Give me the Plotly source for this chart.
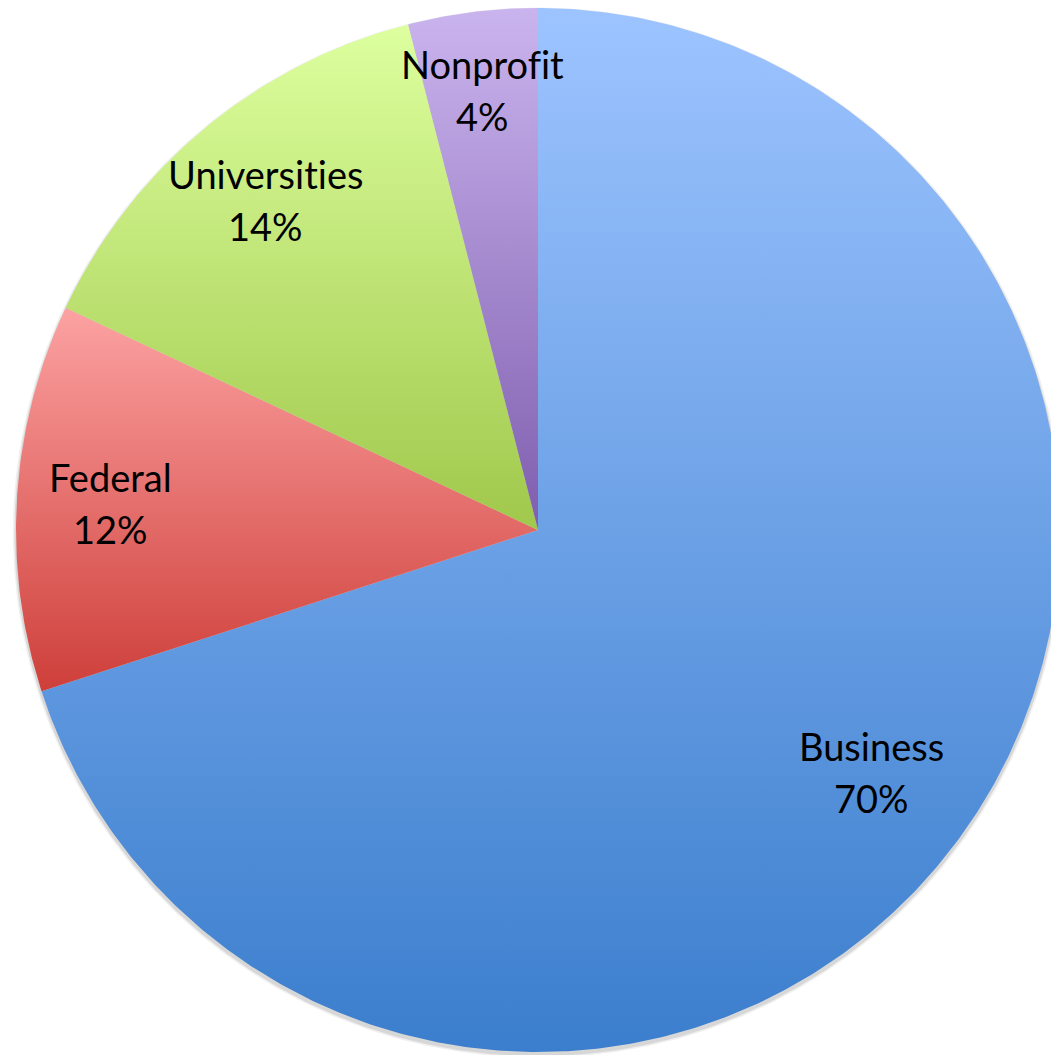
import numpy as np
import plotly.graph_objects as go

# Funding share by sector (percent), clockwise from 12 o'clock
categories = ["Business", "Federal", "Universities", "Nonprofit"]
shares = [70, 12, 14, 4]
pct_labels = ["70%", "12%", "14%", "4%"]

# Vertical gradient per slice: lighter at the top, deeper at the bottom
top_colors = ["#9DC4FF", "#FCA2A2", "#DDFF9F", "#CAB4EE"]
bottom_colors = ["#3B7ECD", "#CE3F3A", "#A0C84B", "#7F5EAE"]

# Radial position of each label as a fraction of the radius
label_radius = [0.79, 0.82, 0.82, 0.85]

W, H = 1051, 1055
R = 1.0
px_per_unit = 522.0
cx_px, cy_px = 538.0, 530.0

fig = go.Figure()

# soft drop shadow under the disc, offset slightly downward
t = np.linspace(0, 2 * np.pi, 721)
for grow, alpha in ((0.006, 0.06), (0.003, 0.10)):
    fig.add_trace(go.Scatter(
        x=(1 + grow) * np.sin(t), y=(1 + grow) * np.cos(t) - 0.005,
        mode="lines", fill="toself", line=dict(width=0),
        fillcolor=f"rgba(0,0,0,{alpha})", hoverinfo="skip", showlegend=False,
    ))

total = float(sum(shares))
start = 0.0
mids = []
for name, share, c_top, c_bot in zip(categories, shares, top_colors, bottom_colors):
    a0 = start / total * 2 * np.pi
    a1 = (start + share) / total * 2 * np.pi
    n = max(int(share * 8), 12)
    ang = np.linspace(a0, a1, n)
    xs = np.concatenate([[0.0], R * np.sin(ang), [0.0]])
    ys = np.concatenate([[0.0], R * np.cos(ang), [0.0]])
    fig.add_trace(go.Scatter(
        x=xs, y=ys, mode="lines", fill="toself",
        line=dict(width=0, color=c_bot),
        fillgradient=dict(type="vertical",
                          colorscale=[[0, c_bot], [1, c_top]]),
        name=name, hoverinfo="name", showlegend=False,
    ))
    mids.append((a0 + a1) / 2)
    start += share

# zero-width non-joiner keeps "ti" / "fi" from merging into ligatures
ZWNJ = "\u200c"


def no_lig(s):
    return s.replace("ti", "t" + ZWNJ + "i").replace("fi", "f" + ZWNJ + "i")


for name, pct, mid, lr in zip(categories, pct_labels, mids, label_radius):
    lx, ly = lr * R * np.sin(mid), lr * R * np.cos(mid)
    for txt, shift in ((no_lig(name), 26), (pct, -26)):
        fig.add_annotation(
            x=lx, y=ly, text=txt, showarrow=False, yshift=shift,
            font=dict(family="Lato", size=38, color="#000000"),
            xanchor="center", yanchor="middle",
        )

fig.update_xaxes(range=[-cx_px / px_per_unit, (W - cx_px) / px_per_unit],
                 visible=False, showgrid=False, zeroline=False)
fig.update_yaxes(range=[-(H - cy_px) / px_per_unit, cy_px / px_per_unit],
                 visible=False, showgrid=False, zeroline=False)
fig.update_layout(
    width=W, height=H,
    margin=dict(l=0, r=0, t=0, b=0),
    paper_bgcolor="#FFFFFF", plot_bgcolor="#FFFFFF",
    showlegend=False,
)

fig.write_html("out.html")
